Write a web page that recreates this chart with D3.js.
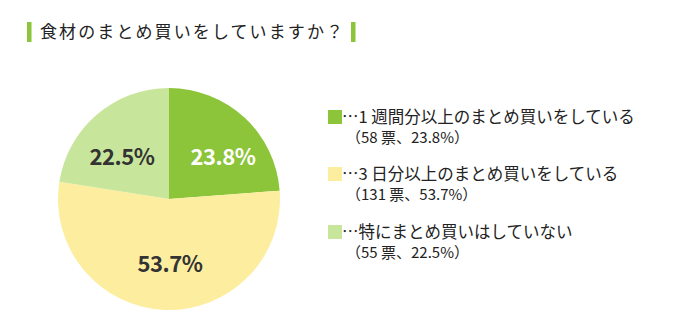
<!DOCTYPE html>
<html><head><meta charset="utf-8">
<script src="https://cdn.jsdelivr.net/npm/d3@7"></script>
<style>body{margin:0;background:#fff}svg{display:block}</style>
</head><body>
<svg id="c" width="680" height="332"></svg>
<script>
const title = "食材のまとめ買いをしていますか？";
const categories = ["…1 週間分以上のまとめ買いをしている","…3 日分以上のまとめ買いをしている","…特にまとめ買いはしていない"];
const votes = [58, 131, 55];
const percents = [23.8, 53.7, 22.5];
const colors = ["#8cc43a", "#fdee9f", "#c8e69b"];
const labelColors = ["#ffffff", "#333333", "#333333"];

const svg = d3.select("#c");
const font = "'Noto Sans CJK JP', 'Noto Sans', sans-serif";

// title
svg.append("rect").attr("x",27).attr("y",22).attr("width",4.5).attr("height",20).attr("fill","#8cc43a");
svg.append("text").attr("x",40).attr("y",38).attr("font-family",font).attr("font-size",17)
  .attr("letter-spacing",2.1).attr("fill","#222").text(title);
svg.append("rect").attr("x",351).attr("y",22).attr("width",4.5).attr("height",20).attr("fill","#8cc43a");

// pie
const cx = 169, cy = 199, r = 111;
const pie = d3.pie().sort(null).value(d=>d)(percents);
const arc = d3.arc().innerRadius(0).outerRadius(r);
const g = svg.append("g").attr("transform",`translate(${cx},${cy})`);
g.selectAll("path").data(pie).join("path").attr("d",arc).attr("fill",(d,i)=>colors[i]);

const labelPos = [[54,-34],[1,73],[-47,-34]];
g.selectAll("text").data(pie).join("text")
  .attr("x",(d,i)=>labelPos[i][0]).attr("y",(d,i)=>labelPos[i][1])
  .attr("text-anchor","middle").attr("font-family",font).attr("font-weight","bold")
  .attr("font-size",22).attr("letter-spacing",-0.5).attr("fill",(d,i)=>labelColors[i])
  .text(d=>d.data.toFixed(1)+"%");

// legend
const legY = [110, 167, 225];
const lg = svg.append("g");
categories.forEach((c,i)=>{
  lg.append("rect").attr("x",328).attr("y",legY[i]).attr("width",14).attr("height",14).attr("fill",colors[i]);
  lg.append("text").attr("x",342).attr("y",legY[i]+12.5).attr("font-family",font).attr("font-size",16.5)
    .attr("fill","#222").text(c);
  lg.append("text").attr("x",346).attr("y",legY[i]+33).attr("font-family",font).attr("font-size",15)
    .attr("fill","#222").text(`（${votes[i]} 票、${percents[i].toFixed(1)}%）`);
});
</script>
</body></html>
